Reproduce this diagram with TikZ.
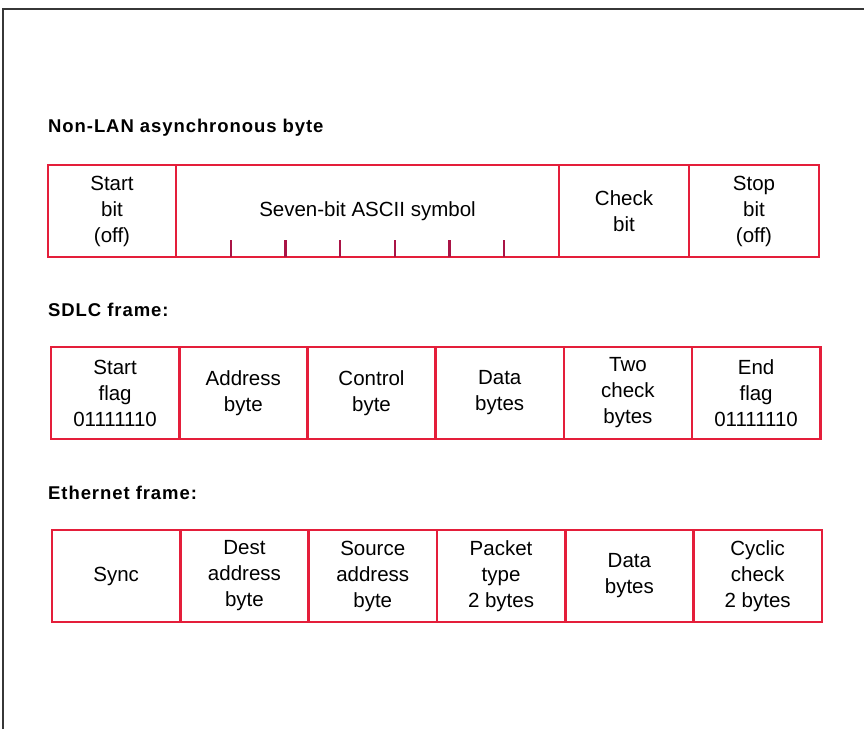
\documentclass[tikz,border=0pt]{standalone}
\usepackage{fontspec}
\setmainfont{Liberation Sans}
\newfontfamily\headfont[LetterSpace=5]{Liberation Sans}
\usepackage{tikz}
\usetikzlibrary{positioning}
\usepackage{xcolor}
\definecolor{framered}{RGB}{228,30,58}
\definecolor{tickred}{RGB}{170,20,70}
\definecolor{rulegray}{RGB}{55,55,55}

\begin{document}
\begin{tikzpicture}[x=1pt,y=1pt,
        cell/.style={draw=framered,line width=2.6pt,minimum height=92pt,inner sep=0pt,outer sep=0pt,align=center,font=\fontsize{20.5}{26}\selectfont},
        head/.style={anchor=west,inner sep=0pt,font=\headfont\bfseries\fontsize{18.5}{22}\selectfont},
        tick/.style={tickred,line width=2.2pt}
      ]
        \useasboundingbox (0,0) rectangle (864,-729);
        \draw[rulegray,line width=2pt] (3,-729) -- (3,-9) -- (864,-9);
        % asynchronous byte
        \node[head] (asynchead) at (48,-128) {Non-LAN asynchronous byte};
        \node[cell,minimum width=128pt,anchor=north west] (startbit) at (48,-165) {Start\\bit\\(off)};
        \node[cell,minimum width=383pt,right=0pt of startbit] (ascii) {Seven-bit ASCII symbol};
        \node[cell,minimum width=130pt,right=0pt of ascii] (checkbit) {Check\\bit};
        \node[cell,minimum width=130pt,right=0pt of checkbit] (stopbit) {Stop\\bit\\(off)};
        \foreach \k in {1,...,6}
          \draw[tick] ([xshift=\k*54.7pt]ascii.south west) -- ++(0,17);
        % SDLC
        \node[head] (sdlchead) at (48,-310) {SDLC frame:};
        \node[cell,minimum width=128.2pt,anchor=north west] (startflag) at (51,-347) {Start\\flag\\01111110};
        \node[cell,minimum width=128.2pt,right=0pt of startflag] (addr) {Address\\byte};
        \node[cell,minimum width=128.2pt,right=0pt of addr] (ctrl) {Control\\byte};
        \node[cell,minimum width=128.2pt,right=0pt of ctrl] (sdata) {Data\\bytes};
        \node[cell,minimum width=128.2pt,right=0pt of sdata] (twocheck) {Two\\check\\bytes};
        \node[cell,minimum width=128.2pt,right=0pt of twocheck] (endflag) {End\\flag\\01111110};
        % Ethernet
        \node[head] (ethhead) at (48,-493) {Ethernet frame:};
        \node[cell,minimum width=128.3pt,anchor=north west] (sync) at (52,-530) {Sync};
        \node[cell,minimum width=128.3pt,right=0pt of sync] (dest) {Dest\\address\\byte};
        \node[cell,minimum width=128.3pt,right=0pt of dest] (source) {Source\\address\\byte};
        \node[cell,minimum width=128.3pt,right=0pt of source] (ptype) {Packet\\type\\2 bytes};
        \node[cell,minimum width=128.3pt,right=0pt of ptype] (edata) {Data\\bytes};
        \node[cell,minimum width=128.3pt,right=0pt of edata] (cyclic) {Cyclic\\check\\2 bytes};
      \end{tikzpicture}
\end{document}
